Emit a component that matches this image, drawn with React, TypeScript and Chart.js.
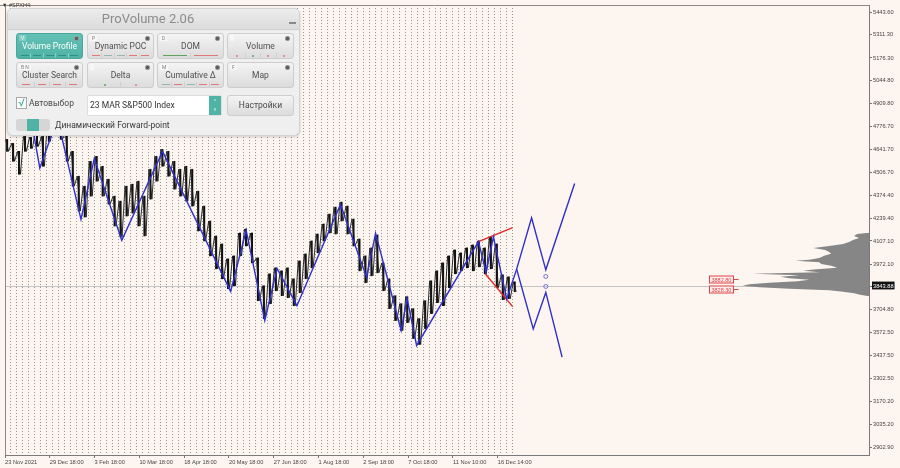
import React, { useEffect, useRef } from 'react';
import { Chart, registerables } from 'chart.js';

Chart.register(...registerables);

// ---------------- data ----------------
const timeLabels = [
  '23 Nov 2021', '29 Dec 18:00', '3 Feb 18:00', '10 Mar 18:00', '18 Apr 18:00', '20 May 18:00',
  '27 Jun 18:00', '1 Aug 18:00', '2 Sep 18:00', '7 Oct 18:00', '11 Nov 10:00', '16 Dec 14:00',
];
// positions of the time labels, in bar-bucket units
const timeTickPos = [0, 7.5, 15, 22.5, 30, 37.5, 45, 52.5, 60, 67.5, 75, 82.5];

const priceTicks = [
  5443.6, 5311.3, 5176.3, 5044.8, 4909.8, 4776.7, 4641.7, 4506.7, 4374.4, 4239.4,
  4107.1, 3972.1, 3843.88, 3704.8, 3572.5, 3437.5, 3302.5, 3170.2, 3035.2, 2902.9,
];
const CURRENT_PRICE = 3843.88;

// H4 price, high / low per bucket
const priceHigh = [
  4700.6, 4677.3, 4630.8, 4718.1, 4712.3, 4758.8, 4718.1, 4805.3, 4828.6, 4817.0,
  4735.5, 4630.8, 4485.3, 4427.2, 4572.6, 4601.7, 4543.5, 4467.9, 4369.0, 4339.9,
  4427.2, 4438.8, 4456.3, 4369.0, 4526.1, 4601.7, 4642.4, 4630.8, 4572.6, 4526.1,
  4543.5, 4526.1, 4398.1, 4310.8, 4223.5, 4136.3, 4089.7, 4002.5, 4019.9, 4153.7,
  4177.0, 4153.7, 4008.3, 3845.4, 3915.2, 3950.1, 3932.6, 3950.1, 3886.1, 3990.8,
  4031.5, 4107.2, 4147.9, 4206.1, 4264.3, 4305.0, 4334.1, 4310.8, 4235.2, 4118.8,
  4019.9, 4066.5, 4142.1, 3979.2, 3886.1, 3787.2, 3740.6, 3781.4, 3711.6, 3653.4,
  3758.1, 3874.5, 3932.6, 3979.2, 4019.9, 4054.8, 4037.4, 4066.5, 4083.9, 4107.2,
  4066.5, 4130.5, 4089.7, 3909.4, 3897.7, 3868.6,
];
const priceLow = [
  4630.8, 4572.6, 4497.0, 4630.8, 4648.3, 4659.9, 4543.5, 4689.0, 4747.2, 4700.6,
  4572.6, 4427.2, 4281.7, 4246.8, 4369.0, 4456.3, 4369.0, 4322.4, 4194.4, 4130.5,
  4252.6, 4270.1, 4194.4, 4136.3, 4351.5, 4456.3, 4543.5, 4485.3, 4409.7, 4369.0,
  4339.9, 4310.8, 4165.4, 4107.2, 4019.9, 3944.3, 3886.1, 3827.9, 3845.4, 4019.9,
  4078.1, 3979.2, 3758.1, 3653.4, 3740.6, 3816.3, 3787.2, 3775.6, 3729.0, 3804.6,
  3886.1, 3950.1, 4037.4, 4107.2, 4153.7, 4147.9, 4223.5, 4147.9, 4078.1, 3932.6,
  3862.8, 3903.5, 3921.0, 3816.3, 3711.6, 3641.7, 3583.6, 3630.1, 3537.0, 3502.1,
  3595.2, 3682.5, 3746.5, 3729.0, 3833.7, 3915.2, 3932.6, 3950.1, 3932.6, 3955.9,
  3915.2, 3944.3, 3833.7, 3763.9, 3769.7, 3810.5,
];

// ZigZag pivots
const zigzagT = [4.67, 5.83, 8.78, 12.72, 14.95, 19.55, 26.38, 37.78, 40.38, 43.5, 45.55, 48.88,
  56.17, 60.55, 62.05, 66.33, 67.33, 68.92, 79.28, 80.55, 81.78, 84.0, 85.67];
const zigzagP = [4758.8, 4533.6, 4822.8, 4233.4, 4588.3, 4111.3, 4630.8, 3812.2, 4169.4, 3641.7, 3946.0, 3729.0,
  4320.7, 3893.6, 4152.0, 3583.6, 3769.7, 3496.3, 4103.1, 3922.7, 4130.5, 3768.0, 3942.5];

// forward projections
const forwardUpT = [85.67, 88.17, 90.55, 95.38];
const forwardUpP = [3942.5, 4242.8, 3938.5, 4442.9];
const forwardDownT = [85.67, 88.45, 90.55, 93.28];
const forwardDownP = [3942.5, 3593.4, 3806.4, 3428.2];

// wedge (red)
const wedgeUpperT = [79.28, 85.0];
const wedgeUpperP = [4103.1, 4184.6];
const wedgeLowerT = [80.38, 85.0];
const wedgeLowerP = [3916.9, 3723.2];

// forward-point signals
const signalT = [90.55, 90.55];
const signalP = [3899.5, 3841.3];

// level labels
const levelPrices = [3882.8, 3828.3];
const LEVEL_LABEL_T = 117.83;

// volume profile
const volPrices = [4155, 4148, 4136, 4125, 4113, 4101, 4090, 4078, 4066, 4055, 4043, 4032, 4020, 4008,
  3997, 3991, 3982, 3973, 3962, 3950, 3941, 3933, 3924, 3915, 3906, 3898, 3889, 3880, 3872, 3863,
  3854, 3845, 3837, 3828, 3819, 3811, 3802, 3793, 3784];
const volValues = [0, 12, 15, 10, 16, 20, 26, 40, 56, 44, 40, 38, 45, 50,
  60, 74, 50, 48, 38, 32, 56, 66, 50, 117, 70, 89, 80, 60, 72, 100,
  120, 127, 110, 80, 40, 26, 15, 9, 0];

// ---------------- helpers ----------------
const pts = (ts: number[], ps: number[]) => ts.map((t, i) => ({ x: t, y: ps[i] }));
const AXIS_FONT = { family: '"Liberation Sans", Arial, sans-serif', size: 5.7 };

const framePlugin = {
  id: 'frame',
  beforeDatasetsDraw(chart: any) {
    const { ctx, chartArea: a } = chart;
    ctx.save();
    ctx.strokeStyle = '#8a8a8a';
    ctx.lineWidth = 1;
    ctx.beginPath();
    ctx.moveTo(0, a.top + 0.5);
    ctx.lineTo(a.right, a.top + 0.5);
    ctx.moveTo(a.left + 0.5, a.top);
    ctx.lineTo(a.left + 0.5, a.bottom);
    ctx.stroke();
    ctx.restore();
  },
};

const levelsPlugin = {
  id: 'levels',
  afterDatasetsDraw(chart: any) {
    const { ctx } = chart;
    const xs = chart.scales.x;
    const ys = chart.scales.y;
    ctx.save();
    ctx.font = '5.5px "Liberation Sans", Arial, sans-serif';
    ctx.lineWidth = 1;
    levelPrices.forEach((p) => {
      const y = Math.round(ys.getPixelForValue(p)) + 0.5;
      const x0 = Math.round(xs.getPixelForValue(LEVEL_LABEL_T)) + 0.5;
      const txt = p.toFixed(2);
      const w = Math.round(ctx.measureText(txt).width + 4);
      ctx.fillStyle = '#fdeeee';
      ctx.fillRect(x0, y - 3.5, w, 7);
      ctx.strokeStyle = '#e04545';
      ctx.strokeRect(x0, y - 3.5, w, 7);
      ctx.fillStyle = '#e04545';
      ctx.textBaseline = 'middle';
      ctx.fillText(txt, x0 + 2, y + 0.5);
      ctx.beginPath();
      ctx.moveTo(x0 + w, y);
      ctx.lineTo(x0 + w + 5, y);
      ctx.stroke();
    });
    ctx.restore();
  },
};

// ---------------- panel ----------------
const PANEL_FONT = 'Roboto, "Noto Sans", sans-serif';
const RED = '#e07878';
const GREEN = '#5aa55a';
const GRAYG = '#9ab5b0';

type Mark = { c: string; k: 'dash' | 'dot' | 'line' };

function Strip({ marks, active }: { marks: Mark[]; active?: boolean }) {
  return (
    <div style={{ position: 'absolute', left: 2, right: 2, top: 19, height: 5, display: 'flex' }}>
      {marks.map((m, i) => (
        <div key={i} style={{
          flex: 1, display: 'flex', alignItems: 'center', justifyContent: 'center',
          borderLeft: i === 0 ? 'none' : `1px solid ${active ? '#7fcfc4' : '#cfcfcf'}`,
        }}>
          {m.k === 'dot' ? (
            <div style={{ width: 2, height: 2, borderRadius: 1, background: m.c }} />
          ) : (
            <div style={{ width: m.k === 'line' ? '80%' : 8, height: 1.2, background: m.c }} />
          )}
        </div>
      ))}
    </div>
  );
}

function Btn({ left, top, letter, label, active, marks }:
  { left: number; top: number; letter: string; label: string; active?: boolean; marks: Mark[] }) {
  return (
    <div style={{
      position: 'absolute', left, top, width: 67, height: 26, boxSizing: 'border-box', borderRadius: 3,
      border: active ? '1px solid #4aa79b' : '1px solid #cdcdcd',
      background: active ? 'linear-gradient(#63c1b5, #4fb1a5)' : 'linear-gradient(#f4f4f4, #dcdcdc)',
    }}>
      <div style={{
        position: 'absolute', left: 2, top: 1, height: 6, padding: '0 2px', fontSize: 5, lineHeight: '6px',
        color: active ? '#e6f6f3' : '#808080', background: active ? 'rgba(255,255,255,0.25)' : '#f7f7f7', borderRadius: 1,
      }}>{letter}</div>
      <div style={{
        position: 'absolute', right: 3, top: 2, width: 3, height: 3, borderRadius: 2,
        background: '#5a5a5a', border: '1px solid #9a9a9a',
      }} />
      <div style={{
        position: 'absolute', left: 0, right: 0, top: 7, textAlign: 'center', fontSize: 8.5, lineHeight: '11px',
        color: active ? '#ffffff' : '#505050', whiteSpace: 'nowrap',
      }}>{label}</div>
      {marks.length > 0 && <Strip marks={marks} active={active} />}
    </div>
  );
}

function Panel() {
  const dash = (c: string): Mark => ({ c, k: 'dash' });
  const dot = (c: string): Mark => ({ c, k: 'dot' });
  const line = (c: string): Mark => ({ c, k: 'line' });
  const teal = '#2f8f83';
  return (
    <div style={{
      position: 'absolute', left: 7, top: 8, width: 293, height: 128, boxSizing: 'border-box',
      background: '#efefef', border: '1px solid #d2d2d2', borderRadius: 6,
      boxShadow: '0 1px 3px rgba(0,0,0,0.18)', fontFamily: PANEL_FONT, overflow: 'hidden',
    }}>
      <div style={{
        position: 'absolute', left: 0, top: 0, right: 0, height: 20,
        background: 'linear-gradient(#ececec, #dcdcdc)', borderBottom: '1px solid #d0d0d0',
      }} />
      <div style={{
        position: 'absolute', left: 0, top: 0, width: 280, height: 20, textAlign: 'center',
        fontSize: 13, lineHeight: '20px', color: '#8c8c8c',
      }}>ProVolume 2.06</div>
      <div style={{ position: 'absolute', left: 281, top: 13, width: 7, height: 1.5, background: '#8a8a8a' }} />

      <Btn left={8} top={24} letter="V" label="Volume Profile" active marks={[dash(teal), dash(teal), dash(teal), dash(teal), dash(teal)]} />
      <Btn left={79} top={24} letter="P" label="Dynamic POC" marks={[dash(RED), dash(GRAYG), dash(GRAYG), dash(RED), dash(RED)]} />
      <Btn left={149} top={24} letter="D" label="DOM" marks={[line(GREEN), line(RED)]} />
      <Btn left={219} top={24} letter="" label="Volume" marks={[dot(RED), dot(GREEN), dot(RED), dot(RED)]} />
      <Btn left={8} top={53} letter="B  N" label="Cluster Search" marks={[dash(RED), dash(RED), dash(RED), dash(RED)]} />
      <Btn left={79} top={53} letter="" label="Delta" marks={[dot(GREEN), dot(RED)]} />
      <Btn left={149} top={53} letter="M" label="Cumulative Δ" marks={[dash(GRAYG), dash(RED), dash(GRAYG), dash(RED), dash(RED)]} />
      <Btn left={219} top={53} letter="F" label="Map" marks={[]} />

      <div style={{
        position: 'absolute', left: 8, top: 88, width: 11, height: 12, boxSizing: 'border-box',
        border: '1px solid #a8a8a8', background: '#fafafa', color: '#3fa89b', fontSize: 11, lineHeight: '10px', textAlign: 'center',
      }}>√</div>
      <div style={{ position: 'absolute', left: 21, top: 88, fontSize: 8.5, lineHeight: '12px', color: '#4a4a4a' }}>Автовыбор</div>

      <div style={{
        position: 'absolute', left: 79, top: 86, width: 135, height: 21, boxSizing: 'border-box',
        background: '#ffffff', border: '1px solid #dedede', borderRadius: 2,
      }}>
        <div style={{ position: 'absolute', left: 2, top: 0, fontSize: 8.5, lineHeight: '19px', color: '#333' }}>23 MAR S&amp;P500 Index</div>
        <div style={{
          position: 'absolute', right: 0, top: 0, width: 12, height: 19, background: '#4fb3a6',
          color: '#e8f7f5', fontSize: 5, lineHeight: '8px', textAlign: 'center', paddingTop: 1, boxSizing: 'border-box',
        }}>^<br />v</div>
      </div>

      <div style={{
        position: 'absolute', left: 219, top: 86, width: 67, height: 21, boxSizing: 'border-box', borderRadius: 3,
        border: '1px solid #cdcdcd', background: 'linear-gradient(#f4f4f4, #dcdcdc)',
        textAlign: 'center', fontSize: 8.5, lineHeight: '19px', color: '#4a4a4a',
      }}>Настройки</div>

      <div style={{
        position: 'absolute', left: 8, top: 110, width: 34, height: 12, borderRadius: 3, background: '#d6d6d6', overflow: 'hidden',
      }}>
        <div style={{ position: 'absolute', left: 11, top: 0, width: 12, height: 12, background: '#4fb3a6' }} />
      </div>
      <div style={{ position: 'absolute', left: 47, top: 110, fontSize: 8.5, lineHeight: '12px', color: '#3a3a3a', whiteSpace: 'nowrap' }}>
        Динамический Forward-point
      </div>
    </div>
  );
}

// ---------------- chart ----------------
export default function App() {
  const canvasRef = useRef<HTMLCanvasElement | null>(null);

  useEffect(() => {
    const canvas = canvasRef.current;
    if (!canvas) return;

    const tracePts: { x: number; y: number }[] = [];
    priceHigh.forEach((h, i) => {
      tracePts.push({ x: i + 0.1, y: h });
      tracePts.push({ x: i + 0.6, y: priceLow[i] });
    });
    const rangeBars = priceHigh.map((h, i) => ({ x: i + 0.35, y: [priceLow[i], h] }));
    const separators = priceHigh.map((_, i) => ({ value: i }));

    const lineBase = { type: 'line' as const, pointRadius: 0, tension: 0, fill: false, xAxisID: 'x', yAxisID: 'y' };

    const chart = new Chart(canvas, {
      type: 'line',
      data: {
        datasets: [
          {
            ...lineBase, data: pts(signalT, signalP), showLine: false, pointRadius: 2, pointStyle: 'circle',
            borderColor: '#7070e0', backgroundColor: 'rgba(255,255,255,0)', borderWidth: 1,
          },
          { ...lineBase, data: pts(forwardUpT, forwardUpP), borderColor: '#2f2fcf', borderWidth: 1.4 },
          { ...lineBase, data: pts(forwardDownT, forwardDownP), borderColor: '#2f2fcf', borderWidth: 1.4 },
          { ...lineBase, data: pts(zigzagT, zigzagP), borderColor: '#2f2fcf', borderWidth: 1.4 },
          { ...lineBase, data: pts(wedgeUpperT, wedgeUpperP), borderColor: '#e02828', borderWidth: 1.4 },
          { ...lineBase, data: pts(wedgeLowerT, wedgeLowerP), borderColor: '#e02828', borderWidth: 1.4 },
          { ...lineBase, data: tracePts, borderColor: '#1a1a1a', borderWidth: 0.9 },
          {
            type: 'bar', xAxisID: 'x', yAxisID: 'y', data: rangeBars as any,
            backgroundColor: '#111111', borderWidth: 0, barThickness: 1.4, grouped: false,
          } as any,
          {
            type: 'line', indexAxis: 'y', xAxisID: 'xv', yAxisID: 'y',
            data: volPrices.map((p, i) => ({ x: volValues[i], y: p })),
            borderWidth: 0, borderColor: 'rgba(0,0,0,0)', backgroundColor: '#868686',
            fill: { value: 0 }, pointRadius: 0, tension: 0,
          } as any,
        ],
      },
      options: {
        responsive: false,
        animation: false,
        events: [],
        layout: { padding: { left: 1, top: 3, right: 0, bottom: 0 } },
        plugins: { legend: { display: false }, tooltip: { enabled: false } },
        scales: {
          xs: {
            type: 'linear', axis: 'x', position: 'bottom', min: 0, max: 144.667, display: true, offset: false,
            afterBuildTicks: (s: any) => { s.ticks = separators; },
            ticks: { display: false },
            grid: { color: '#959595', lineWidth: 1, drawTicks: false, drawOnChartArea: true, offset: false },
            border: { display: false, dash: [1, 2] },
            afterFit: (s: any) => { s.height = 0; },
          },
          x: {
            type: 'linear', position: 'bottom', min: 0, max: 144.667, offset: false,
            afterBuildTicks: (s: any) => { s.ticks = timeTickPos.map((v) => ({ value: v })); },
            ticks: {
              callback: (_v: any, i: number) => timeLabels[i],
              align: 'start', autoSkip: false, maxRotation: 0, minRotation: 0, padding: 1,
              color: '#444', font: AXIS_FONT,
            },
            grid: { drawOnChartArea: false, drawTicks: true, tickLength: 3, tickColor: '#777', color: '#777', offset: false },
            border: { display: true, color: '#7a7a7a' },
            afterFit: (s: any) => { s.height = 13; },
          },
          xv: {
            type: 'linear', axis: 'x', display: false, reverse: true, min: 0, max: 868, offset: false,
          },
          y: {
            type: 'linear', position: 'right', min: 2856.3, max: 5486.0,
            afterBuildTicks: (s: any) => { s.ticks = priceTicks.map((v) => ({ value: v })); },
            ticks: {
              callback: (v: any) => Number(v).toFixed(2),
              autoSkip: false, padding: 1, font: AXIS_FONT,
              color: (c: any) => (c.tick && c.tick.value === CURRENT_PRICE ? '#ffffff' : '#444'),
              showLabelBackdrop: (c: any) => !!(c.tick && c.tick.value === CURRENT_PRICE),
              backdropColor: '#111111',
              backdropPadding: { top: 1, bottom: 0, left: 1, right: 1 },
            },
            grid: {
              drawOnChartArea: true, tickLength: 3, tickColor: '#777',
              color: (c: any) => (c.tick && c.tick.value === CURRENT_PRICE ? '#c4c4c4' : 'rgba(0,0,0,0)'),
            },
            border: { display: true, color: '#7a7a7a' },
            afterFit: (s: any) => { s.width = 31; },
          },
        } as any,
      },
      plugins: [framePlugin, levelsPlugin],
    });

    return () => chart.destroy();
  }, []);

  return (
    <div style={{ position: 'fixed', left: 0, top: 0, width: 900, height: 468, background: '#fdf5ef', overflow: 'hidden' }}>
      <canvas ref={canvasRef} width={900} height={468} style={{ display: 'block', width: 900, height: 468 }} />
      <div style={{
        position: 'absolute', left: 2, top: 2, fontSize: 5.5, lineHeight: '6px', color: '#333',
        fontFamily: '"Liberation Sans", Arial, sans-serif',
      }}>▼ #SPXH4:</div>
      <Panel />
    </div>
  );
}
